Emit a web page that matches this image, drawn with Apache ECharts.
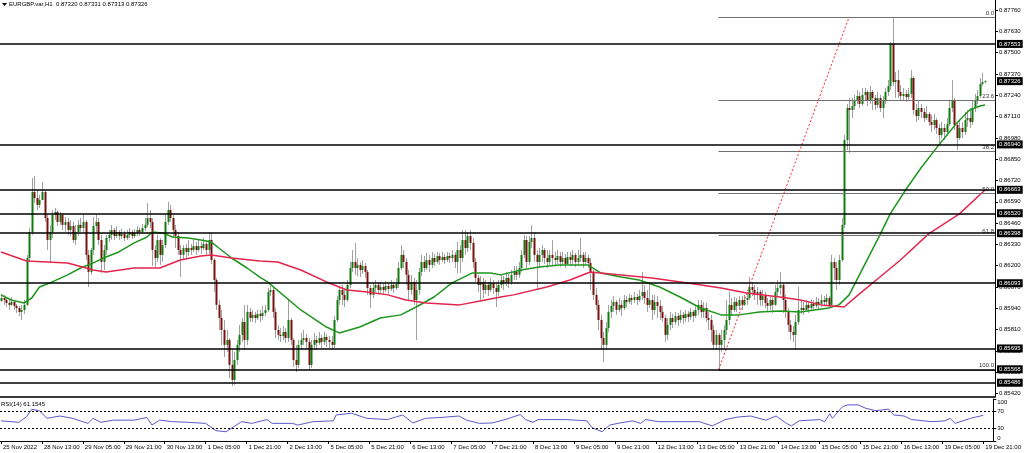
<!DOCTYPE html>
<html><head><meta charset="utf-8">
<script src="https://cdn.jsdelivr.net/npm/echarts@6/dist/echarts.min.js"></script>
<style>html,body{margin:0;padding:0;background:#fff}#c{width:1024px;height:453px}</style>
</head><body><div id="c"></div><script>
// ---- DATA (prices in 1e-5 units) ----
const timeLabels = ['25 Nov 2022','28 Nov 13:00','29 Nov 05:00','29 Nov 21:00','30 Nov 13:00','1 Dec 05:00','1 Dec 21:00','2 Dec 13:00','5 Dec 05:00','5 Dec 21:00','6 Dec 13:00','7 Dec 05:00','7 Dec 21:00','8 Dec 13:00','9 Dec 05:00','9 Dec 21:00','12 Dec 13:00','13 Dec 05:00','13 Dec 21:00','14 Dec 13:00','15 Dec 05:00','15 Dec 21:00','16 Dec 13:00','19 Dec 05:00','19 Dec 21:00'];
const timeLabelBars = [0,16,32,48,64,80,96,112,128,144,160,176,192,208,224,240,256,272,288,304,320,336,352,368,384];
const priceTicks = [0.85420,0.85550,0.85680,0.85810,0.85940,0.86070,0.86200,0.86330,0.86460,0.86590,0.86720,0.86850,0.86980,0.87110,0.87240,0.87370,0.87500,0.87630,0.87760];
const rsiTicks = [0,30,70,100];
const firstOpen = 85985;
const lastOpen = 87320;
const closes = [
86003,85991,85973,85961,85979,85955,85942,85918,85930,85961,
86247,86406,86650,86613,86571,86601,86650,86491,86357,86406,
86510,86528,86467,86510,86449,86467,86418,86442,86357,86406,
86449,86430,86467,86266,86162,86296,86442,86467,86357,86223,
86296,86369,86388,86418,86381,86406,86381,86394,86369,86388,
86406,86381,86400,86418,86406,86430,86449,86491,86467,86296,
86247,86357,86266,86326,86467,86540,86491,86418,86381,86296,
86266,86308,86284,86308,86296,86320,86296,86320,86308,86333,
86296,86357,86235,86113,85961,85881,85808,85717,85747,85595,
85503,85625,85717,85778,85857,85747,85918,85881,85900,85881,
85906,85893,85912,85930,86040,86052,85918,85808,85778,85771,
85796,85759,85869,85747,85625,85595,85717,85747,85759,85735,
85595,85717,85747,85729,85759,85735,85765,85747,85735,85717,
85869,85991,86052,86022,85991,86083,86186,86223,86186,86205,
86174,86198,86162,86064,86022,86064,86083,86052,86070,86052,
86076,86058,86083,86064,86089,86186,86266,86223,86144,86052,
86101,85991,86052,86162,86223,86186,86235,86205,86247,86223,
86259,86235,86253,86235,86259,86247,86266,86223,86296,86247,
86357,86308,86381,86339,86223,86125,86083,86101,86052,86083,
86052,86095,86064,86040,86083,86113,86095,86125,86101,86144,
86162,86144,86186,86266,86357,86223,86345,86369,86266,86223,
86266,86296,86247,86223,86266,86247,86235,86259,86223,86247,
86211,86253,86235,86266,86223,86247,86266,86223,86247,86217,
86162,86022,85961,85869,85759,85717,85820,85918,85955,85979,
85930,85961,85942,85991,85979,86003,85991,86009,85991,86015,
86040,86003,85961,85991,85930,85979,85955,85918,85881,85778,
85839,85881,85857,85893,85869,85900,85881,85906,85887,85918,
85893,85930,85961,85918,85942,85881,85869,85808,85717,85778,
85717,85747,85808,85869,85961,85930,85979,85955,85991,85961,
85991,86003,86070,86052,86022,86040,85991,86015,85973,85955,
85991,85961,86040,86064,86083,85991,85918,85839,85796,85778,
85857,85930,85942,85930,85961,85942,85967,85955,85979,85967,
85991,85979,86003,85961,86223,86186,86113,86235,86449,86967,
87162,87150,87174,87211,87235,87187,87242,87260,87211,87260,
87223,87181,87223,87162,87211,87260,87296,87553,87321,87333,
87260,87235,87248,87229,87248,87345,87150,87113,87162,87138,
87101,87126,87077,87059,87089,87040,86998,87040,87016,87065,
87162,87211,87059,86979,87040,87016,87089,87101,87077,87162,
87211,87235,87309,87320,87326];
const highs = [
86028,86022,86003,85991,86009,85991,85967,85955,85961,85991,
86266,86430,86735,86747,86662,86632,86711,86662,86510,86449,
86540,86552,86540,86528,86522,86497,86491,86479,86467,86449,
86479,86491,86510,86479,86296,86308,86497,86510,86491,86388,
86326,86388,86418,86449,86430,86442,86418,86424,86412,86418,
86430,86418,86424,86442,86436,86455,86491,86583,86540,86491,
86326,86388,86369,86357,86510,86589,86571,86510,86449,86406,
86326,86326,86333,86357,86333,86357,86345,86357,86345,86369,
86357,86406,86406,86247,86125,85991,85930,85869,85808,85759,
85686,85674,85747,85839,85881,85961,85961,85942,85930,85918,
85930,85930,85955,85961,86064,86076,86064,85942,85839,85820,
85832,85820,85991,85881,85759,85717,85747,85790,85808,85784,
85759,85747,85790,85771,85796,85778,85796,85784,85771,85771,
85893,86015,86076,86083,86052,86113,86223,86296,86339,86247,
86223,86235,86217,86174,86083,86095,86113,86101,86101,86089,
86107,86095,86113,86101,86125,86223,86326,86296,86247,86174,
86144,86125,86113,86186,86266,86259,86278,86266,86284,86272,
86284,86278,86284,86272,86284,86278,86296,86284,86345,86326,
86418,86418,86406,86418,86369,86247,86144,86137,86125,86113,
86101,86125,86113,86101,86113,86144,86137,86162,86150,86174,
86198,86198,86223,86296,86388,86381,86381,86449,86406,86296,
86308,86326,86308,86296,86296,86357,86284,86296,86284,86284,
86272,86284,86284,86296,86278,86296,86369,86284,86284,86266,
86247,86174,86064,85991,85900,85796,85857,85961,85991,86015,
85991,86003,85991,86022,86015,86028,86022,86040,86028,86052,
86162,86083,86052,86101,86022,86022,86015,85991,85955,85900,
85881,85918,85906,85918,85912,85930,85918,85930,85924,85942,
85930,85961,85991,85991,85979,85973,85918,85900,85839,85808,
85790,85808,85839,85991,86040,86003,86009,86003,86015,86015,
86022,86040,86131,86101,86083,86070,86052,86052,86040,86003,
86015,86015,86083,86113,86162,86095,86022,85942,85869,85832,
85900,86070,85991,85979,85991,85985,85997,85991,86009,86003,
86022,86015,86028,86015,86266,86247,86223,86266,86491,86998,
87187,87223,87223,87242,87272,87260,87284,87284,87272,87296,
87272,87242,87260,87242,87235,87284,87333,87565,87717,87382,
87394,87302,87284,87272,87284,87394,87357,87187,87211,87187,
87162,87174,87138,87120,87126,87101,87065,87077,87065,87101,
87211,87333,87223,87077,87089,87077,87138,87150,87162,87211,
87248,87272,87345,87376,87331];
const lows = [
85979,85961,85948,85930,85955,85930,85912,85893,85869,85906,
85955,86223,86388,86583,86540,86552,86601,86467,86296,86223,
86369,86479,86442,86449,86418,86406,86388,86381,86339,86326,
86381,86406,86406,86235,86070,86144,86266,86406,86326,86156,
86174,86266,86345,86357,86357,86369,86357,86363,86351,86357,
86369,86363,86369,86381,86381,86394,86412,86436,86430,86198,
86192,86223,86205,86223,86308,86449,86467,86369,86308,86266,
86131,86235,86247,86259,86266,86284,86266,86284,86272,86296,
86266,86272,86211,86040,85930,85808,85717,85643,85674,85515,
85466,85473,85595,85674,85735,85686,85717,85857,85857,85851,
85869,85857,85869,85893,85918,86015,85881,85759,85747,85735,
85747,85729,85735,85717,85582,85552,85576,85686,85717,85686,
85564,85576,85698,85686,85717,85698,85717,85704,85698,85686,
85698,85857,85961,85961,85948,85979,86064,86162,86144,86137,
86131,86150,86125,86022,85942,86003,86040,86022,86034,86028,
86040,86028,86046,86034,86052,86064,86174,86186,86083,85991,
86022,85961,85747,86022,86137,86162,86174,86162,86186,86198,
86211,86205,86223,86211,86223,86217,86223,86186,86156,86156,
86223,86266,86284,86296,86186,86101,86040,85991,86003,86028,
86015,86040,86028,85948,86015,86064,86052,86076,86064,86083,
86113,86113,86125,86162,86247,86186,86205,86308,86223,86052,
86186,86223,86211,86186,86205,86205,86198,86211,86192,86205,
86186,86205,86198,86211,86192,86205,86223,86186,86205,86186,
86052,85991,85930,85808,85686,85613,85686,85796,85881,85918,
85900,85918,85893,85930,85948,85967,85961,85973,85961,85979,
85991,85967,85918,85942,85869,85900,85881,85869,85857,85735,
85747,85808,85820,85839,85832,85851,85845,85857,85857,85869,
85857,85881,85900,85881,85881,85857,85808,85735,85686,85686,
85564,85674,85686,85778,85839,85893,85918,85918,85930,85930,
85955,85961,85991,86015,85991,85961,85955,85955,85942,85918,
85930,85912,85955,86015,86022,85912,85881,85796,85747,85735,
85686,85839,85906,85900,85918,85912,85924,85924,85942,85936,
85948,85955,85961,85942,85955,86113,86052,86083,86223,86430,
86906,86888,87101,87150,87187,87162,87174,87211,87174,87187,
87150,87150,87162,87138,87101,87187,87235,87272,87296,87223,
87223,87211,87211,87199,87211,87223,87120,87077,87089,87101,
87077,87089,87052,87016,87028,87004,86949,86979,86967,86991,
87052,87138,87028,86906,86967,86979,86998,87046,87040,87059,
87138,87187,87223,87296,87313];
// moving averages: [bar, price]
const maFast = [[0,86022],[4,85991],[9,85973],[12,86003],[15,86070],[20,86101],[26,86144],[31,86186],[36,86217],[41,86253],[46,86284],[52,86339],[57,86375],[59,86406],[63,86400],[67,86375],[73,86369],[78,86357],[82,86345],[85,86308],[90,86247],[96,86186],[101,86131],[104,86101],[117,85930],[127,85826],[132,85790],[140,85826],[148,85881],[156,85900],[162,85948],[169,86009],[176,86095],[184,86156],[191,86156],[195,86144],[203,86174],[210,86192],[218,86205],[229,86205],[234,86156],[242,86131],[249,86113],[257,86070],[265,86009],[273,85942],[281,85900],[288,85900],[296,85918],[304,85924],[312,85918],[323,85942],[327,85961],[331,86022],[335,86144],[339,86266],[343,86388],[347,86516],[353,86662],[359,86796],[366,86937],[373,87071],[378,87150],[382,87174],[384,87181]];
const maSlow = [[0,86284],[10,86229],[26,86217],[36,86174],[41,86162],[52,86186],[62,86186],[70,86235],[78,86259],[82,86266],[90,86247],[101,86229],[108,86223],[117,86174],[127,86101],[135,86052],[143,86040],[151,86022],[158,85991],[166,85973],[179,85961],[187,85985],[195,86009],[200,86022],[213,86070],[222,86113],[230,86162],[234,86156],[242,86144],[254,86125],[268,86095],[281,86064],[291,86034],[304,86009],[312,85991],[320,85961],[329,85948],[335,86028],[343,86131],[351,86235],[362,86394],[374,86516],[384,86662]];
const rsi = [[0,48],[7,44.5],[10,58],[12,75.5],[15,72],[18,54],[23,59.5],[28,54],[34,42],[36,54],[39,44.5],[44,49.6],[52,49.6],[57,56],[59,38],[62,49.6],[67,46],[73,44.5],[80,42],[84,24.6],[88,22],[91,34],[94,46],[98,42],[104,51],[106,42],[114,42],[116,38],[122,46],[130,48],[131,62],[137,66],[143,54],[151,51],[157,62],[161,43],[166,54],[172,56],[179,59.5],[182,49.6],[187,42],[192,43],[197,51],[203,63],[205,51],[208,44.5],[210,51],[221,51],[229,48],[231,32],[235,22],[238,38],[242,43],[247,48],[250,42],[252,51],[257,46],[262,46],[273,46],[278,36],[281,44.5],[283,51],[288,57],[293,59.5],[299,49.6],[303,59.5],[307,42],[309,36],[312,48],[320,51],[322,46],[324,65],[325,54],[329,82],[331,86],[335,86],[338,78],[342,72],[347,76],[349,62],[353,59.5],[356,51],[364,46],[369,48],[371,54],[373,42],[379,54],[384,61.15]];
const levelPrices = [0.87553,0.86940,0.86663,0.86520,0.86398,0.86093,0.85695,0.85568,0.85486];
const currentPrice = 0.87326;
const fibLabels = ['0.0','23.6','38.2','50.0','61.8','100.0'];
const fibPrices = [0.87718,0.87211,0.86897,0.86643,0.86388,0.85565];
const fibStartBar = 280;
const fibTrend = [[280,0.85565],[331,0.87718]];
const rsiLevels = [70,30];

// ---- CHART ----
const S = 1e5;
const X_MIN = -0.39, X_MAX = 387.9;
const FONT = 'Liberation Sans';
const candles = closes.map((c,i)=>{
  const o = i===0 ? firstOpen : (i===closes.length-1 ? lastOpen : closes[i-1]);
  return [i, o/S, c/S, lows[i]/S, highs[i]/S];
});
function renderCandle(params, api){
  const i=api.value(0), o=api.value(1), c=api.value(2), l=api.value(3), h=api.value(4);
  const hi=Math.max(h,o,c), lo=Math.min(l,o,c);
  const pH=api.coord([i,hi]), pL=api.coord([i,lo]), pO=api.coord([i,o]), pC=api.coord([i,c]);
  const x=Math.round(pH[0]);
  const top=Math.min(pO[1],pC[1]), bot=Math.max(pO[1],pC[1]);
  const up=c>=o;
  return {type:'group', children:[
    {type:'line', shape:{x1:x+0.5,y1:pH[1],x2:x+0.5,y2:pL[1]}, style:{stroke:'#a0a0a0', lineWidth:1}},
    {type:'rect', shape:{x:x-0.5,y:top,width:2,height:Math.max(1,bot-top)}, style:{fill: up?'#117a11':'#7a1111'}}
  ]};
}
const chart = echarts.init(document.getElementById('c'), null, {renderer:'canvas'});
const levelLines = levelPrices.map(v=>({yAxis:v}));
levelLines.push({yAxis:currentPrice, lineStyle:{color:'rgba(0,0,0,0)'}});
const fibLines = fibPrices.map((p,k)=>[{coord:[fibStartBar,p], name:fibLabels[k]},{coord:[X_MAX,p]}]);
fibLines.push([{coord:fibTrend[0], lineStyle:{color:'#ff2a2a', type:[2,2], width:1}, label:{show:false}},{coord:fibTrend[1]}]);
const option = {
  animation:false,
  backgroundColor:'#ffffff',
  textStyle:{fontFamily:FONT},
  grid:[{left:0,right:29,top:0,height:397},{left:0,right:29,top:399,height:42}],
  xAxis:[
    {type:'value',gridIndex:0,min:X_MIN,max:X_MAX,axisLine:{show:true,onZero:false,lineStyle:{color:'#3a3a3a',width:2}},axisTick:{show:false},axisLabel:{show:false},splitLine:{show:false}},
    {type:'value',gridIndex:1,min:X_MIN,max:X_MAX,axisLine:{show:true,onZero:false,lineStyle:{color:'#000',width:1}},
      axisTick:{show:true,customValues:timeLabelBars,length:3,lineStyle:{color:'#000'}},
      axisLabel:{show:true,customValues:timeLabelBars,formatter:v=>timeLabels[timeLabelBars.indexOf(Math.round(v))]||'',align:'left',fontSize:6,margin:3,color:'#000',fontFamily:FONT,padding:[0,0,0,2]},
      splitLine:{show:false}}
  ],
  yAxis:[
    {type:'value',gridIndex:0,position:'right',min:0.85399,max:0.87821,scale:true,
      axisLine:{show:true,onZero:false,lineStyle:{color:'#000',width:1}},
      axisTick:{show:true,customValues:priceTicks,length:3,lineStyle:{color:'#000'}},
      axisLabel:{show:true,customValues:priceTicks,formatter:v=>v.toFixed(5),fontSize:6,color:'#000',margin:4,fontFamily:FONT},
      splitLine:{show:false}},
    {type:'value',gridIndex:1,position:'right',min:0,max:100,
      axisLine:{show:true,onZero:false,lineStyle:{color:'#000',width:1}},
      axisTick:{show:true,customValues:rsiTicks,length:3,lineStyle:{color:'#000'}},
      axisLabel:{show:true,customValues:rsiTicks,formatter:v=>String(v),fontSize:6,color:'#000',margin:4,fontFamily:FONT,verticalAlignMaxLabel:'top',verticalAlignMinLabel:'bottom'},
      splitLine:{show:false}}
  ],
  series:[
    {type:'custom',name:'EURGBP',xAxisIndex:0,yAxisIndex:0,renderItem:renderCandle,data:candles,encode:{x:0,y:[1,2,3,4]},z:2,clip:true},
    {type:'line',name:'MA fast',xAxisIndex:0,yAxisIndex:0,data:maFast.map(d=>[d[0],d[1]/S]),symbol:'none',showSymbol:false,clip:false,
      lineStyle:{color:'#1e961e',width:1.5},z:4,
      markLine:{silent:true,symbol:['none','none'],animation:false,z:6,precision:5,
        lineStyle:{color:'#000',width:1.6,type:'solid'},
        label:{show:true,position:'end',distance:2,formatter:p=>Number(p.value).toFixed(5),color:'#fff',backgroundColor:'#000',padding:[1,2,1,2],fontSize:6,fontFamily:FONT},
        data:levelLines}},
    {type:'line',name:'MA slow',xAxisIndex:0,yAxisIndex:0,data:maSlow.map(d=>[d[0],d[1]/S]),symbol:'none',showSymbol:false,clip:false,
      lineStyle:{color:'#e3264e',width:1.5},z:4,
      markLine:{silent:true,symbol:['none','none'],animation:false,z:5,precision:5,
        lineStyle:{color:'#707070',width:1,type:'solid'},
        label:{show:true,position:'insideEndTop',distance:1,formatter:p=>p.name,color:'#333',fontSize:6,fontFamily:FONT},
        data:fibLines}},
    {type:'line',name:'RSI(14)',xAxisIndex:1,yAxisIndex:1,data:rsi,symbol:'none',showSymbol:false,
      lineStyle:{color:'#5a5ac8',width:1},z:3,
      markLine:{silent:true,symbol:['none','none'],animation:false,
        lineStyle:{color:'#000',width:1,type:[2,2]},label:{show:false},
        data:rsiLevels.map(v=>({yAxis:v}))}}
  ],
  graphic:[
    {type:'polygon',shape:{points:[[2,3],[7,3],[4.5,6]]},style:{fill:'#000'}},
    {type:'text',left:9,top:1,style:{text:'EURGBP.var,H1  0.87320 0.87331 0.87313 0.87326',font:'6px "Liberation Sans"',fill:'#000'}},
    {type:'text',left:1,top:401,style:{text:'RSI(14) 61.1545',font:'6px "Liberation Sans"',fill:'#000'}}
  ]
};
chart.setOption(option);
</script></body></html>
